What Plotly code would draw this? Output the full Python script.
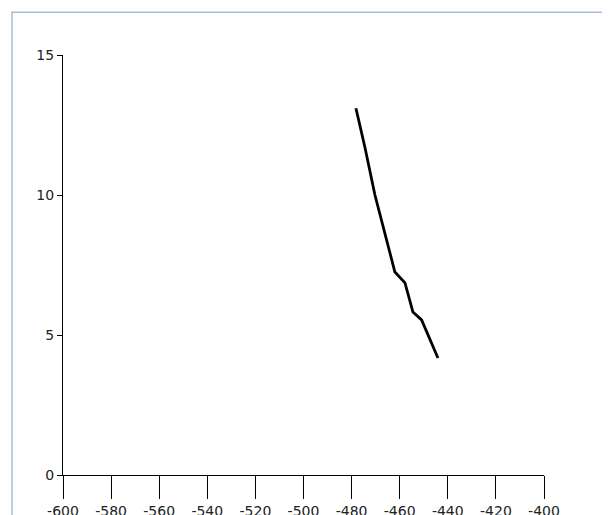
import plotly.graph_objects as go

# curve
xs = [-478.2, -474.4, -470.3, -466.1, -462.0, -457.8, -454.5, -450.9, -444.1]
ys = [13.1, 11.68, 10.0, 8.64, 7.25, 6.86, 5.82, 5.54, 4.18]

x_ticks = list(range(-600, -399, 20))
x_labels = [str(v) for v in x_ticks]
y_ticks = [0, 5, 10, 15]

fig = go.Figure()
fig.add_trace(go.Scatter(x=xs, y=ys, mode="lines",
                         line=dict(color="black", width=2.8),
                         showlegend=False, hoverinfo="skip"))

fig.update_xaxes(range=[-600, -400], tickvals=x_ticks, ticktext=x_labels,
                 ticks="outside", ticklen=23, tickcolor="black", tickwidth=1,
                 showline=True, linecolor="black", linewidth=1,
                 showgrid=False, zeroline=False, automargin=False)
fig.update_yaxes(range=[0, 15], tickvals=y_ticks, ticks="outside",
                 ticklen=5, tickcolor="black", tickwidth=1,
                 showline=True, linecolor="black", linewidth=1,
                 showgrid=False, zeroline=False, automargin=False)

# light frame around the panel
fig.add_shape(type="rect", xref="paper", yref="paper",
              x0=-0.106, y0=-0.3, x1=1.3, y1=1.102,
              line=dict(color="#a9bcd6", width=1.5), layer="below")

# page has an 8px body margin, so margins are shifted to compensate
fig.update_layout(
    width=610, height=515,
    margin=dict(l=55, r=74, t=47, b=48),
    plot_bgcolor="white", paper_bgcolor="white",
    font=dict(family="DejaVu Sans, Arial", size=14, color="#222222"),
)
fig.write_html("out.html")
